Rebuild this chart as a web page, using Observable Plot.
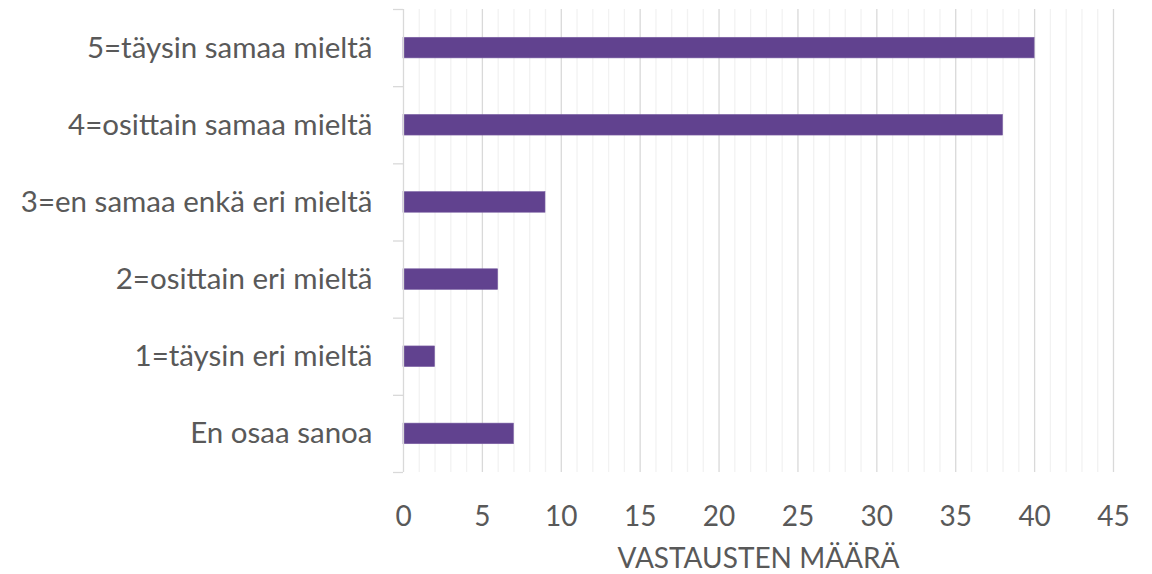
<!DOCTYPE html>
<html>
<head>
<meta charset="utf-8">
<script src="https://cdn.jsdelivr.net/npm/d3@7"></script>
<script src="https://cdn.jsdelivr.net/npm/@observablehq/plot@0.6"></script>
<style>
  html, body { margin: 0; padding: 0; background: #fff; }
  #chart { width: 1152px; height: 574px; }
</style>
</head>
<body>
<div id="chart"></div>
<script>
const categories = [
  "5=täysin samaa mieltä",
  "4=osittain samaa mieltä",
  "3=en samaa enkä eri mieltä",
  "2=osittain eri mieltä",
  "1=täysin eri mieltä",
  "En osaa sanoa"
];
const values = [40, 38, 9, 6, 2, 7];
const xTicks = [0, 5, 10, 15, 20, 25, 30, 35, 40, 45];
const xTitle = "VASTAUSTEN MÄÄRÄ";

const data = categories.map((c, i) => ({ i, category: c, value: values[i] }));
const half = 0.1335;
const boundaries = d3.range(-0.5, categories.length, 1);
const minor = d3.range(0, 46, 1).filter(v => v % 5 !== 0);

const font = "Lato, sans-serif";

const chart = Plot.plot({
  width: 1152,
  height: 574,
  marginLeft: 403,
  marginRight: 39,
  marginTop: 9,
  marginBottom: 102,
  style: { fontFamily: font, background: "#fff" },
  x: { domain: [0, 45] },
  y: { domain: [categories.length - 0.5, -0.5] },
  marks: [
    Plot.ruleX(minor, { stroke: "#f2f2f2", strokeWidth: 1.3 }),
    Plot.ruleX(xTicks.slice(1), { stroke: "#d9d9d9", strokeWidth: 1.3 }),
    Plot.rect(data, {
      x1: 0, x2: "value",
      y1: d => d.i - half, y2: d => d.i + half,
      fill: "#61428f", stroke: "#7a5fa3", strokeWidth: 0.6
    }),
    Plot.ruleX([0], { stroke: "#d9d9d9", strokeWidth: 1.3 }),
    Plot.axisY(boundaries, {
      tickSize: 10, tickFormat: () => "", stroke: "#d9d9d9", strokeWidth: 1.3
    }),
    Plot.axisY(data.map(d => d.i), {
      tickSize: 0, tickPadding: 31, tickFormat: i => categories[i],
      fontSize: 29.5, fill: "#595959", label: null
    }),
    Plot.axisX(xTicks, {
      tickSize: 0, tickPadding: 34, fontSize: 28, fill: "#595959",
      label: xTitle, labelAnchor: "center", labelArrow: "none",
      labelOffset: 95
    })
  ]
});

document.getElementById("chart").appendChild(chart);
</script>
</body>
</html>
